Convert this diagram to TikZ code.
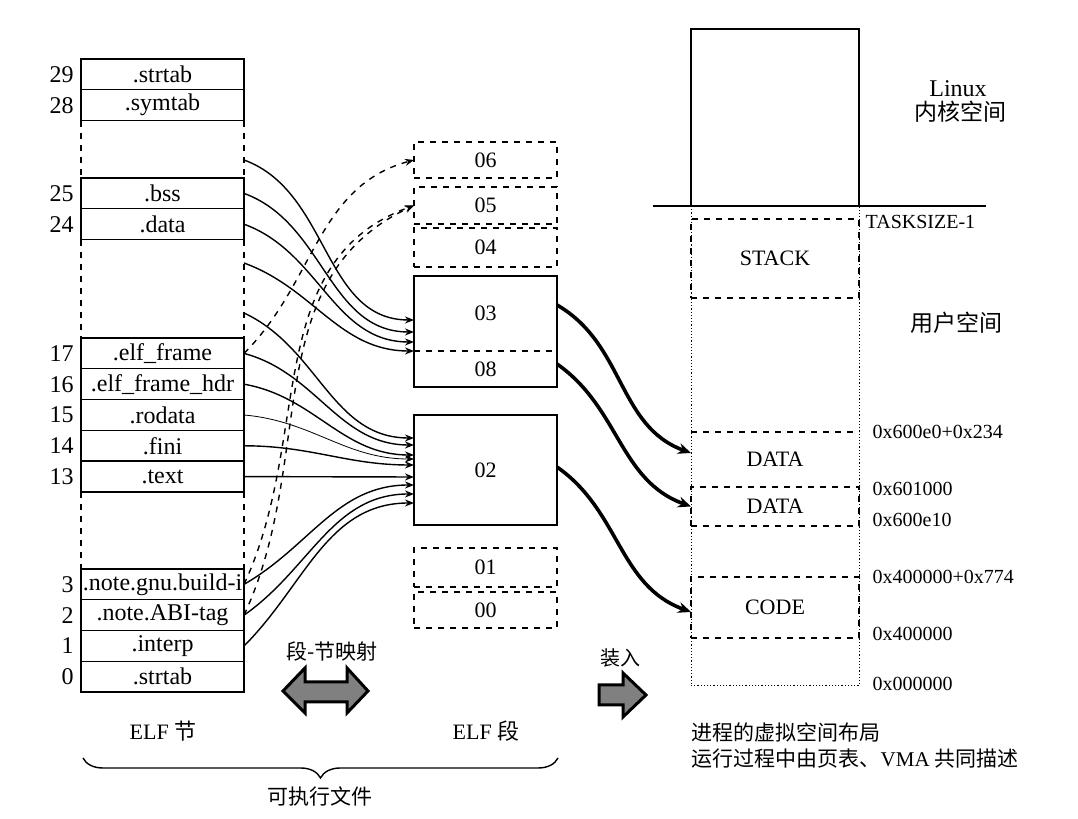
\documentclass[tikz,border=0pt]{standalone}
\usepackage{fontspec}
\setmainfont{Liberation Serif}
\newfontfamily\cjk{Noto Sans CJK SC}
\usepackage{tikz}
\usetikzlibrary{arrows.meta, positioning, calc, decorations.pathreplacing}

\begin{document}
\begin{tikzpicture}[x=0.5pt, y=0.5pt, >={Stealth[length=4.5pt, width=3.5pt]}, line width=0.7pt, every node/.style={font=\fontsize{12}{14}\selectfont}]
    % Define styles for sections, segments, regions and labels
    \tikzstyle{sec} = [draw, rectangle, minimum width=81.5pt, minimum height=15.4pt, inner sep=0pt, outer sep=0pt]
    \tikzstyle{seg} = [draw, dashed, rectangle, minimum width=71.5pt, minimum height=18.5pt, inner sep=0pt, outer sep=0pt, font=\fontsize{11}{13}\selectfont]
    \tikzstyle{region} = [rectangle, minimum width=84pt, inner sep=0pt, outer sep=0pt, font=\fontsize{11}{13}\selectfont]
    \tikzstyle{addr} = [anchor=west, inner sep=0pt, font=\fontsize{10}{12}\selectfont]
    \tikzstyle{cn} = [inner sep=0pt, font=\cjk\fontsize{10.5}{13.5}\selectfont]
    \tikzstyle{map} = [->]
    \tikzstyle{load} = [line width=1.8pt, -{Stealth[length=6.5pt, width=5.5pt]}]
    \tikzstyle{fat} = [draw, line width=1.5pt, fill=black!50, line join=miter]

    \useasboundingbox (0,0) rectangle (1078,819);

    % ELF sections
    \node [sec, label=left:29] (s29) at (162.5,744.6) {.strtab};
    \node [sec, label=left:28, below=0pt of s29] (s28) {.symtab};
    \node [sec, label=left:25] (s25) at (162.5,625.6) {.bss};
    \node [sec, label=left:24, below=0pt of s25] (s24) {.data};
    \node [sec, label=left:17] (s17) at (162.5,465.6) {.elf\_frame};
    \node [sec, label=left:16, below=0pt of s17] (s16) {.elf\_frame\_hdr};
    \node [sec, label=left:15, below=0pt of s16] (s15) {.rodata};
    \node [sec, label=left:14, below=0pt of s15] (s14) {.fini};
    \node [sec, label=left:13, below=0pt of s14] (s13) {.text};
    \node [sec, label=left:3] (s3) at (162.5,234.6) {.note.gnu.build-i};
    \node [sec, label=left:2, below=0pt of s3] (s2) {.note.ABI-tag};
    \node [sec, label=left:1, below=0pt of s2] (s1) {.interp};
    \node [sec, label=left:0, below=0pt of s1] (s0) {.strtab};
    \draw [dashed] (s28.south west) -- (s25.north west);
    \draw [dashed] (s28.south east) -- (s25.north east);
    \draw [dashed] (s24.south west) -- (s17.north west);
    \draw [dashed] (s24.south east) -- (s17.north east);
    \draw [dashed] (s13.south west) -- (s3.north west);
    \draw [dashed] (s13.south east) -- (s3.north east);

    % ELF segments
    \node [seg, minimum height=18pt] (g06) at (485.5,659) {06};
    \node [seg] (g05) at (485.5,613.5) {05};
    \node [seg, minimum height=19.5pt] (g04) at (485.5,571.5) {04};
    \node [seg, draw=none, minimum height=37.5pt] (g03) at (485.5,505.5) {03};
    \node [seg, draw=none, minimum height=18pt, below=0pt of g03] (g08) {08};
    \draw (g03.north west) rectangle (g08.south east);
    \draw [dashed] (g03.south west) -- (g03.south east);
    \node [seg, solid, minimum height=55pt] (g02) at (485.5,349) {02};
    \node [seg, minimum height=19.5pt] (g01) at (485.5,251.5) {01};
    \node [seg, minimum height=18pt] (g00) at (485.5,209) {00};

    % Process address space
    \node [region, draw, minimum height=88.5pt] (kernel) at (775,701.5) {};
    \draw [line width=1.2pt] ($(kernel.south west)+(-38,0)$) -- ($(kernel.south east)+(127,0)$);
    \draw [dash pattern=on 0.6pt off 1pt, line width=0.5pt] (kernel.south west) rectangle ++(168,-480);
    \node [region, draw, dashed, minimum height=39.5pt] (stack) at (775,560.5) {STACK};
    \node [region, minimum height=27.5pt] (data1) at (775,359.5) {DATA};
    \draw [dashed] (data1.north west) -- (data1.north east);
    \node [region, draw, dashed, minimum height=19.5pt] (data2) at (775,312.5) {DATA};
    \node [region, draw, dashed, minimum height=30.5pt] (code) at (775,211.5) {CODE};
    \node [addr] (tsize) at (865,597) {TASKSIZE-1};
    \node [addr] (a600e0) at (872,387) {0x600e0+0x234};
    \node [addr] (a601000) at (872,330) {0x601000};
    \node [addr] (a600e10) at (872,299) {0x600e10};
    \node [addr] (a400774) at (872,242) {0x400000+0x774};
    \node [addr] (a400000) at (872,185) {0x400000};
    \node [addr] (a000000) at (872,135) {0x000000};
    \node (linux) at (958,730) {Linux};
    \node [cn, font=\cjk\fontsize{11.5}{14}\selectfont] (kspace) at (960,707) {内核空间};
    \node [cn, font=\cjk\fontsize{11.5}{14}\selectfont] (uspace) at (956,496) {用户空间};
    \node [cn, anchor=west] (layout1) at (691,87) {进程的虚拟空间布局};
    \node [cn, anchor=west] (layout2) at (691,60) {运行过程中由页表、{\rmfamily VMA} 共同描述};

    % Big arrows and captions
    \node [cn, font=\cjk\fontsize{10}{12}\selectfont] (loadlabel) at (620,161) {装入};
    \draw [fat] (599,134) -- (623,134) -- (623,146) -- (646,124) -- (623,102) -- (623,114) -- (599,114) -- cycle;
    \node [cn] (maplabel) at (332,167) {段-节映射};
    \draw [fat] (283,128) -- (305,151) -- (305,137) -- (347,137) -- (347,151) -- (368,128) -- (347,106) -- (347,117) -- (305,117) -- (305,106) -- cycle;
    \node [font=\fontsize{11}{13}\selectfont] (elfsec) at (163,88) {ELF {\cjk 节}};
    \node [font=\fontsize{11}{13}\selectfont] (elfseg) at (486,88) {ELF {\cjk 段}};
    \draw [decorate, decoration={brace, mirror, amplitude=10pt}] (83,61) -- (558,61);
    \node [cn] (exe) at (320,23) {可执行文件};

    % Section to segment mapping
    \coordinate (f1) at (244,659);
    \coordinate (f2) at (244,556);
    \coordinate (f3) at (244,506);
    \draw [map] (f1) to[out=-20, in=180] ($(g03.west)+(0,-6.5)$);
    \draw [map] (s25.east) to[out=-20, in=180] ($(g03.west)+(0,-18.5)$);
    \draw [map] (s24.east) to[out=-20, in=180] ($(g03.west)+(0,-28.5)$);
    \draw [map] (f2) to[out=-20, in=180] ($(g03.west)+(0,-37.5)$);
    \draw [map] (f3) to[out=-25, in=180] ($(g02.west)+(0,32)$);
    \draw [map] (s17.east) to[out=-15, in=180] ($(g02.west)+(0,25)$);
    \draw [map] (s16.east) to[out=-10, in=180] ($(g02.west)+(0,15)$);
    \draw [map, thin] (s15.east) to[out=-5, in=180] ($(g02.west)+(0,11)$);
    \draw [map] (s14.east) to[out=0, in=180] ($(g02.west)+(0,5)$);
    \draw [map] (s13.east) -- ($(g02.west)+(0,-7)$);
    \draw [map] (s3.east) to[out=30, in=180] ($(g02.west)+(0,-15)$);
    \draw [map] (s2.east) to[out=35, in=180] ($(g02.west)+(0,-24)$);
    \draw [map] (s1.east) to[out=45, in=180] ($(g02.west)+(0,-33)$);
    \draw [map, dashed] (s17.east) to[out=45, in=195] (g06.west);
    \draw [map, dashed] (s3.east) to[out=65, in=200] (g05.west);
    \draw [map, dashed] (s2.east) to[out=65, in=205] (g05.west);

    % Segment loading
    \draw [load] ($(g03.east)+(0,8.5)$) to[out=-30, in=160] ($(data1.west)+(0,6.5)$);
    \draw [load] ($(g08.east)+(0,5)$) to[out=-35, in=160] (data2.west);
    \draw [load] ($(g02.east)+(0,3)$) to[out=-35, in=160] ($(code.west)+(0,-4.5)$);
\end{tikzpicture}
\end{document}
